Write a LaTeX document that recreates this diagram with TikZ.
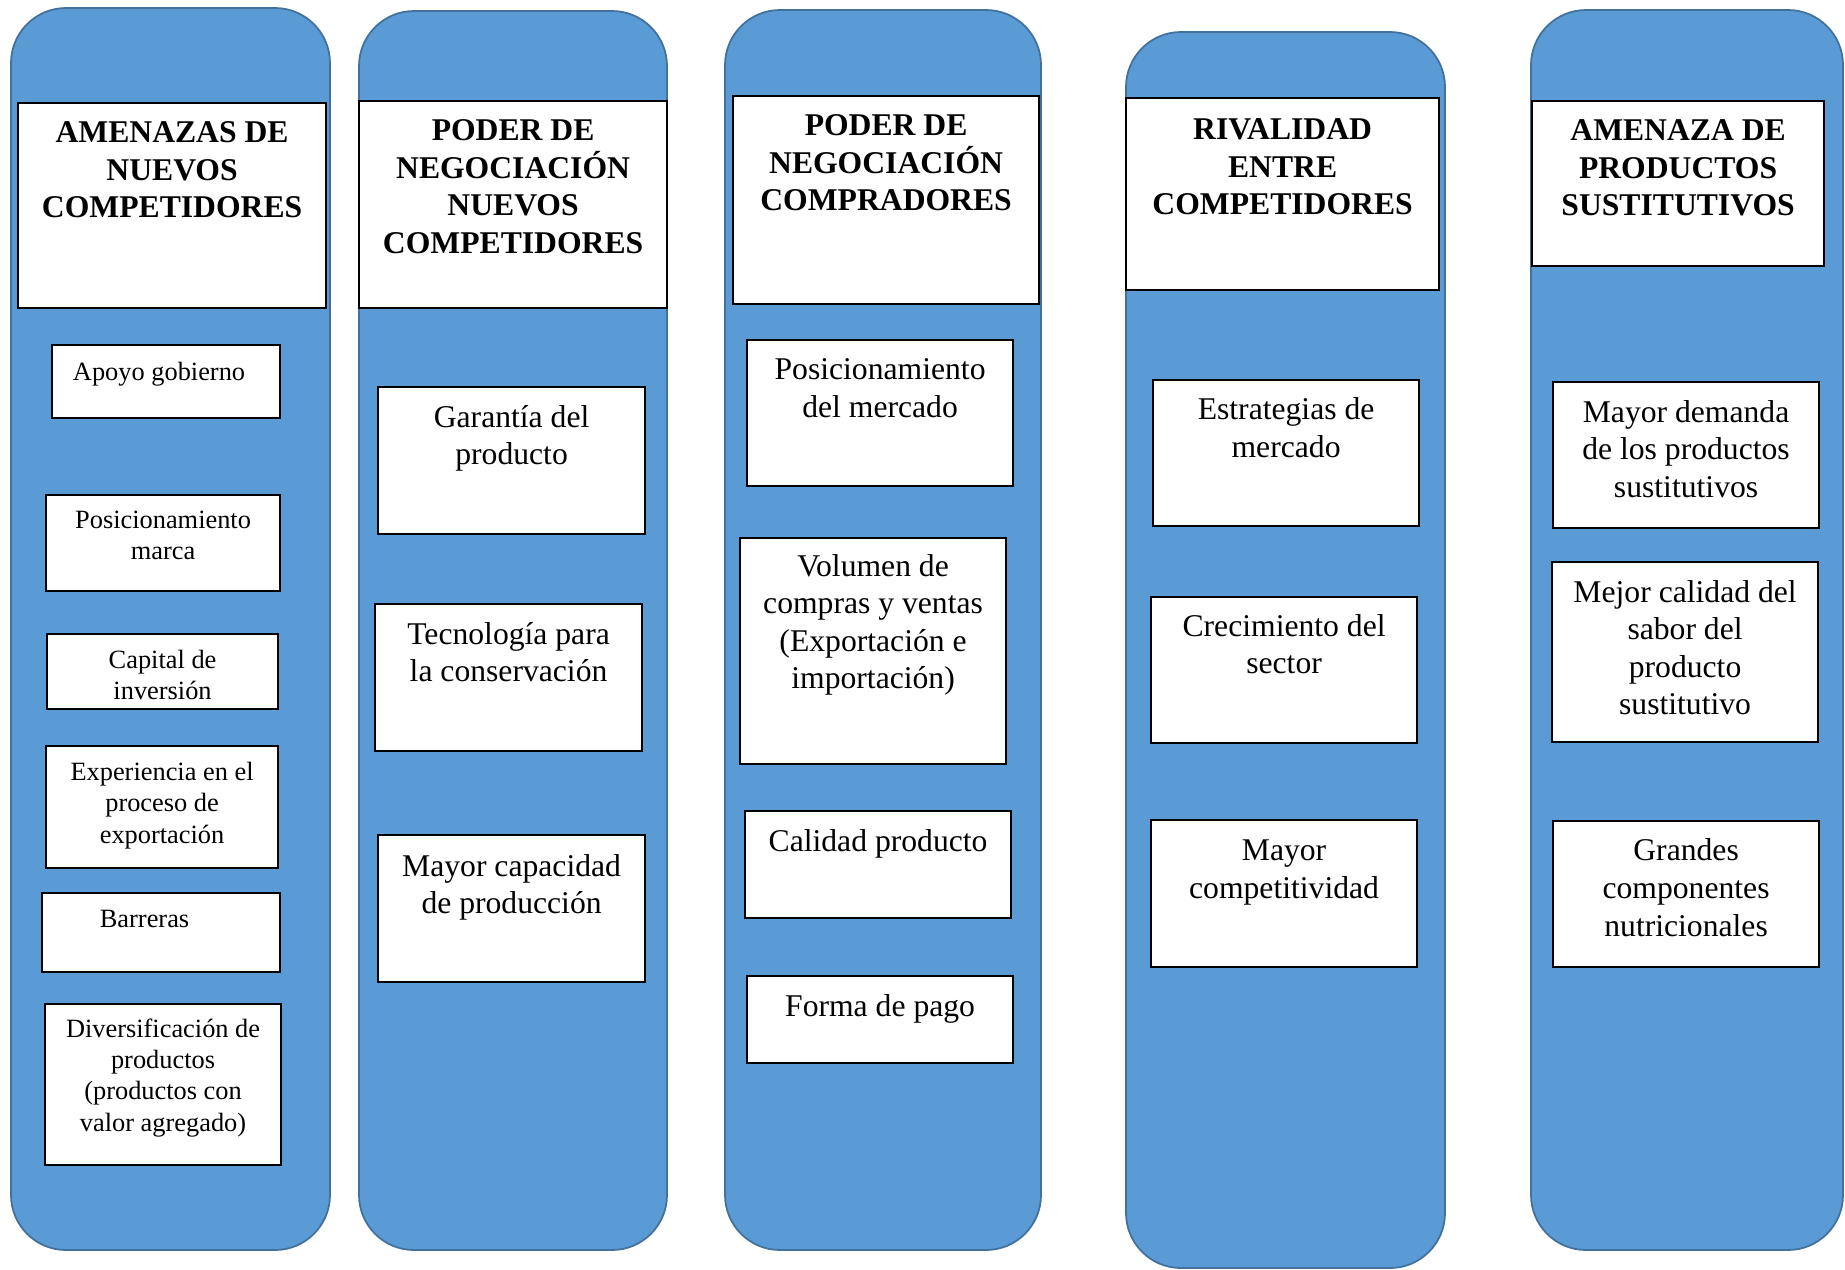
\documentclass[tikz,border=0pt]{standalone}
\usepackage{fontspec}
\setmainfont{Liberation Serif}
\usetikzlibrary{positioning}

\definecolor{azul}{HTML}{5B9BD5}
\definecolor{azulborde}{HTML}{41719C}
\setlength{\lineskiplimit}{-10pt}

\tikzset{
  pilar/.style={fill=azul, draw=azulborde, line width=0.5pt, rounded corners=0.55cm},
  caja/.style={rectangle, draw, fill=white, line width=0.6pt, anchor=north west, inner sep=0pt, outer sep=0pt},
  titulo/.style={align=center, inner sep=0pt, font=\fontsize{9}{10.7}\selectfont\bfseries},
  texto/.style={align=center, inner sep=0pt, font=\fontsize{9}{10.7}\selectfont},
  textochico/.style={align=center, inner sep=0pt, font=\fontsize{7.5}{8.9}\selectfont},
}

\begin{document}
\begin{tikzpicture}[x=0.01cm, y=-0.01cm, node distance=0.125cm]
    \useasboundingbox (0,0) rectangle (1845,1269);
    % columnas
    \draw [pilar] (11,8) rectangle (330,1250);
    \draw [pilar] (359,11) rectangle (667,1250);
    \draw [pilar] (725,10) rectangle (1041,1250);
    \draw [pilar] (1126,32) rectangle (1445,1268);
    \draw [pilar] (1531,10) rectangle (1843,1250);

    % amenazas de nuevos competidores
    \node (c1h) [caja, minimum width=3.08cm, minimum height=2.05cm] at (18,103) {};
    \node (c1ht) [titulo, below=0.125cm of c1h.north] {\strut AMENAZAS DE\\NUEVOS\\COMPETIDORES};
    \node (c1a) [caja, minimum width=2.28cm, minimum height=0.73cm] at (52,345) {};
    \node (c1at) [textochico, below=of c1a.north, xshift=-0.07cm] {\strut Apoyo gobierno};
    \node (c1b) [caja, minimum width=2.34cm, minimum height=0.96cm] at (46,495) {};
    \node (c1bt) [textochico, below=0.11cm of c1b.north] {\strut Posicionamiento\\marca};
    \node (c1c) [caja, minimum width=2.31cm, minimum height=0.75cm] at (47,634) {};
    \node (c1ct) [textochico, below=0.12cm of c1c.north] {\strut Capital de\\inversión};
    \node (c1d) [caja, minimum width=2.32cm, minimum height=1.22cm] at (46,746) {};
    \node (c1dt) [textochico, below=0.12cm of c1d.north] {\strut Experiencia en el\\proceso de\\exportación};
    \node (c1e) [caja, minimum width=2.38cm, minimum height=0.79cm] at (42,893) {};
    \node (c1et) [textochico, below=0.12cm of c1e.north, xshift=-0.165cm] {\strut Barreras};
    \node (c1f) [caja, minimum width=2.36cm, minimum height=1.61cm] at (45,1004) {};
    \node (c1ft) [textochico, below=0.105cm of c1f.north] {\strut Diversificación de\\productos\\(productos con\\valor agregado)};

    % poder de negociacion nuevos competidores
    \node (c2h) [caja, minimum width=3.08cm, minimum height=2.07cm] at (359,101) {};
    \node (c2ht) [titulo, below=0.125cm of c2h.north] {\strut PODER DE\\NEGOCIACIÓN\\NUEVOS\\COMPETIDORES};
    \node (c2a) [caja, minimum width=2.67cm, minimum height=1.47cm] at (378,387) {};
    \node (c2at) [texto, below=0.13cm of c2a.north] {\strut Garantía del\\producto};
    \node (c2b) [caja, minimum width=2.67cm, minimum height=1.47cm] at (375,604) {};
    \node (c2bt) [texto, below=0.13cm of c2b.north] {\strut Tecnología para\\la conservación};
    \node (c2c) [caja, minimum width=2.67cm, minimum height=1.47cm] at (378,835) {};
    \node (c2ct) [texto, below=0.14cm of c2c.north] {\strut Mayor capacidad\\de producción};

    % poder de negociacion compradores
    \node (c3h) [caja, minimum width=3.06cm, minimum height=2.08cm] at (733,96) {};
    \node (c3ht) [titulo, below=0.125cm of c3h.north] {\strut PODER DE\\NEGOCIACIÓN\\COMPRADORES};
    \node (c3a) [caja, minimum width=2.66cm, minimum height=1.46cm] at (747,340) {};
    \node (c3at) [texto, below=of c3a.north] {\strut Posicionamiento\\del mercado};
    \node (c3b) [caja, minimum width=2.66cm, minimum height=2.26cm] at (740,538) {};
    \node (c3bt) [texto, below=0.11cm of c3b.north] {\strut Volumen de\\compras y ventas\\(Exportación e\\importación)};
    \node (c3c) [caja, minimum width=2.66cm, minimum height=1.07cm] at (745,811) {};
    \node (c3ct) [texto, below=0.13cm of c3c.north] {\strut Calidad producto};
    \node (c3d) [caja, minimum width=2.66cm, minimum height=0.87cm] at (747,976) {};
    \node (c3dt) [texto, below=0.13cm of c3d.north] {\strut Forma de pago};

    % rivalidad entre competidores
    \node (c4h) [caja, minimum width=3.13cm, minimum height=1.92cm] at (1126,98) {};
    \node (c4ht) [titulo, below=0.145cm of c4h.north] {\strut RIVALIDAD\\ENTRE\\COMPETIDORES};
    \node (c4a) [caja, minimum width=2.66cm, minimum height=1.46cm] at (1153,380) {};
    \node (c4at) [texto, below=of c4a.north] {\strut Estrategias de\\mercado};
    \node (c4b) [caja, minimum width=2.66cm, minimum height=1.46cm] at (1151,597) {};
    \node (c4bt) [texto, below=0.12cm of c4b.north] {\strut Crecimiento del\\sector};
    \node (c4c) [caja, minimum width=2.66cm, minimum height=1.47cm] at (1151,820) {};
    \node (c4ct) [texto, below=0.137cm of c4c.north] {\strut Mayor\\competitividad};

    % amenaza de productos sustitutivos
    \node (c5h) [caja, minimum width=2.92cm, minimum height=1.65cm] at (1532,101) {};
    \node (c5ht) [titulo, below=0.125cm of c5h.north] {\strut AMENAZA DE\\PRODUCTOS\\SUSTITUTIVOS};
    \node (c5a) [caja, minimum width=2.66cm, minimum height=1.46cm] at (1553,382) {};
    \node (c5at) [texto, below=0.13cm of c5a.north] {\strut Mayor demanda\\de los productos\\sustitutivos};
    \node (c5b) [caja, minimum width=2.66cm, minimum height=1.80cm] at (1552,562) {};
    \node (c5bt) [texto, below=0.13cm of c5b.north] {\strut Mejor calidad del\\sabor del\\producto\\sustitutivo};
    \node (c5c) [caja, minimum width=2.66cm, minimum height=1.46cm] at (1553,821) {};
    \node (c5ct) [texto, below=0.127cm of c5c.north] {\strut Grandes\\componentes\\nutricionales};
\end{tikzpicture}
\end{document}
